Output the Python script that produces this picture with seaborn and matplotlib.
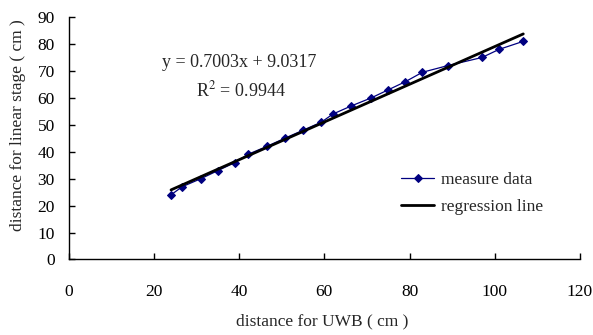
import numpy as np
import pandas as pd
import seaborn as sns
import matplotlib.pyplot as plt

uwb = [24, 26.6, 31, 35, 39, 42, 46.5, 50.7, 55, 59.3, 62, 66.3, 71,
       75, 79, 83, 89, 97, 101, 106.7]
stage = [24, 27, 30, 33, 36, 39, 42, 45, 48, 51, 54, 57, 60,
         63, 66, 69.5, 72, 75, 78, 81]

slope = 0.7003
intercept = 9.0317
r2 = 0.9944

sns.set_theme(style="ticks")
plt.rcParams['font.family'] = ['Liberation Serif', 'DejaVu Serif']
plt.rcParams['mathtext.fontset'] = 'stix'

df = pd.DataFrame({"uwb": uwb, "stage": stage})
fit_x = np.array([min(uwb), max(uwb)])
fit = pd.DataFrame({"uwb": fit_x, "stage": slope * fit_x + intercept})

fig = plt.figure(figsize=(5.93, 3.35), dpi=100)
ax = fig.add_axes([0.116, 0.2254, 0.862, 0.7236])

sns.lineplot(data=df, x="uwb", y="stage", ax=ax, color="#000080", lw=0.9,
             marker="D", markersize=4.5, markeredgecolor="#000080",
             label="measure data")
sns.lineplot(data=fit, x="uwb", y="stage", ax=ax, color="black", lw=2,
             label="regression line")

ax.set_xlim(0, 120)
ax.set_ylim(0, 90)
ax.set_xticks(range(0, 121, 20))
ax.set_yticks(range(0, 91, 10))
ax.tick_params(direction="in", length=4, width=1, colors="black", labelsize=12.5)
ax.tick_params(axis="x", pad=18)
ax.tick_params(axis="y", pad=10)
for s in ["top", "right"]:
    ax.spines[s].set_visible(False)
for s in ["left", "bottom"]:
    ax.spines[s].set_color("black")
    ax.spines[s].set_linewidth(1)

ax.set_xlabel("distance for UWB ( cm )", fontsize=12.5)
ax.set_ylabel("distance for linear stage ( cm )", fontsize=12.5)
ax.xaxis.set_label_coords(0.496, -0.222)
ax.yaxis.set_label_coords(-0.083, 0.556)

ax.text(40, 73.1, "y = 0.7003x + 9.0317", ha="center", va="center", fontsize=13)
ax.text(40.3, 62.6, "R$^2$ = %.4f" % r2, ha="center", va="center", fontsize=13)

ax.legend(loc="center left", bbox_to_anchor=(0.62, 0.273), frameon=False,
          fontsize=12.5, handlelength=1.9, handletextpad=0.4, labelspacing=0.6)

fig.savefig("out.png", dpi=100)
